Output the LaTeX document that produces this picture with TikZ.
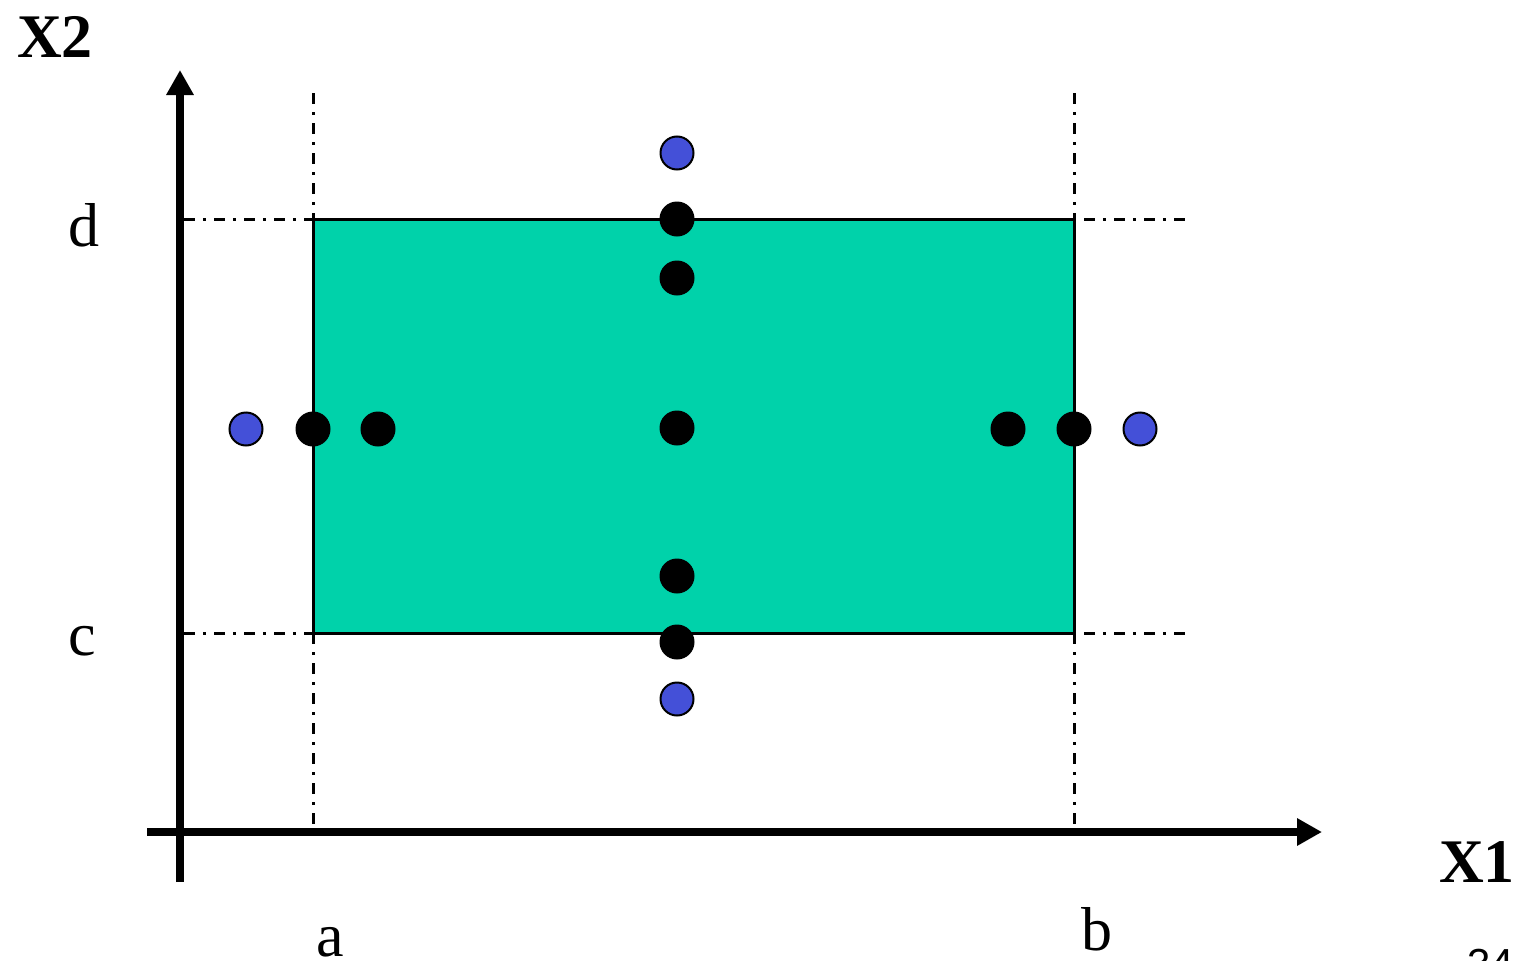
\documentclass[tikz,border=0pt]{standalone}
\usepackage{fontspec}
\setmainfont{Liberation Serif}
\newfontfamily\pagefont{Liberation Sans}
\usetikzlibrary{arrows.meta}
\definecolor{boxfill}{HTML}{00D2AA}
\definecolor{bluept}{HTML}{4450D8}
\tikzset{
  axisline/.style={line width=7.5pt,-{Triangle[length=25pt,width=26pt]}},
  guide/.style={line width=3pt,dash pattern=on 11pt off 8pt on 3pt off 8pt},
  blackpt/.style={circle,fill=black,inner sep=0pt,minimum size=35pt},
  bluedot/.style={circle,fill=bluept,draw=black,line width=2pt,inner sep=0pt,minimum size=33pt},
  lab/.style={font=\fontsize{62}{70}\selectfont,inner sep=0pt},
  boldlab/.style={font=\fontsize{62}{70}\selectfont\bfseries,inner sep=0pt}
}
\begin{document}
\begin{tikzpicture}[x=1pt,y=-1pt]
\useasboundingbox (0,0) rectangle (1526,961);
% coordinates
\coordinate (yb) at (180,882);
\coordinate (yt) at (180,70);
\coordinate (xl) at (147,832);
\coordinate (xr) at (1322,832);
\coordinate (ra) at (313,219);
\coordinate (rb) at (1074,633);
% box
\fill[boxfill] (ra) rectangle (rb);
% guides
\coordinate (g1t) at (313,93); \coordinate (g1b) at (313,832);
\coordinate (g2t) at (1074,93); \coordinate (g2b) at (1074,832);
\coordinate (h1l) at (184,219); \coordinate (h1r) at (1190,219);
\coordinate (h2l) at (184,633); \coordinate (h2r) at (1190,633);
\draw[guide] (g1t) -- (g1b);
\draw[guide] (g2t) -- (g2b);
\draw[guide] (h1l) -- (h1r);
\draw[guide] (h2l) -- (h2r);
\draw[line width=3pt] (ra) rectangle (rb);
% axes
\draw[axisline] (yb) -- (yt);
\draw[axisline] (xl) -- (xr);
% points
\node[blackpt] (p1) at (677,219) {};
\node[blackpt] (p2) at (677,278) {};
\node[blackpt] (p3) at (313,429) {};
\node[blackpt] (p4) at (378,429) {};
\node[blackpt] (p5) at (677,428) {};
\node[blackpt] (p6) at (1008,429) {};
\node[blackpt] (p7) at (1074,429) {};
\node[blackpt] (p8) at (677,576) {};
\node[blackpt] (p9) at (677,642) {};
\node[bluedot] (q1) at (677,153) {};
\node[bluedot] (q2) at (246,429) {};
\node[bluedot] (q3) at (1140,429) {};
\node[bluedot] (q4) at (677,699) {};
% labels
\node[boldlab] (lx2) at (55,37) {X2};
\node[boldlab] (lx1) at (1477,862) {X1};
\node[lab] (ld) at (84,225) {d};
\node[lab] (lc) at (82,641) {c};
\node[lab] (la) at (330,942) {a};
\node[lab] (lb) at (1097,929) {b};
\node[font=\pagefont\fontsize{42}{48}\selectfont,inner sep=0pt,anchor=base west] (pg) at (1467,978) {34};
\end{tikzpicture}
\end{document}
